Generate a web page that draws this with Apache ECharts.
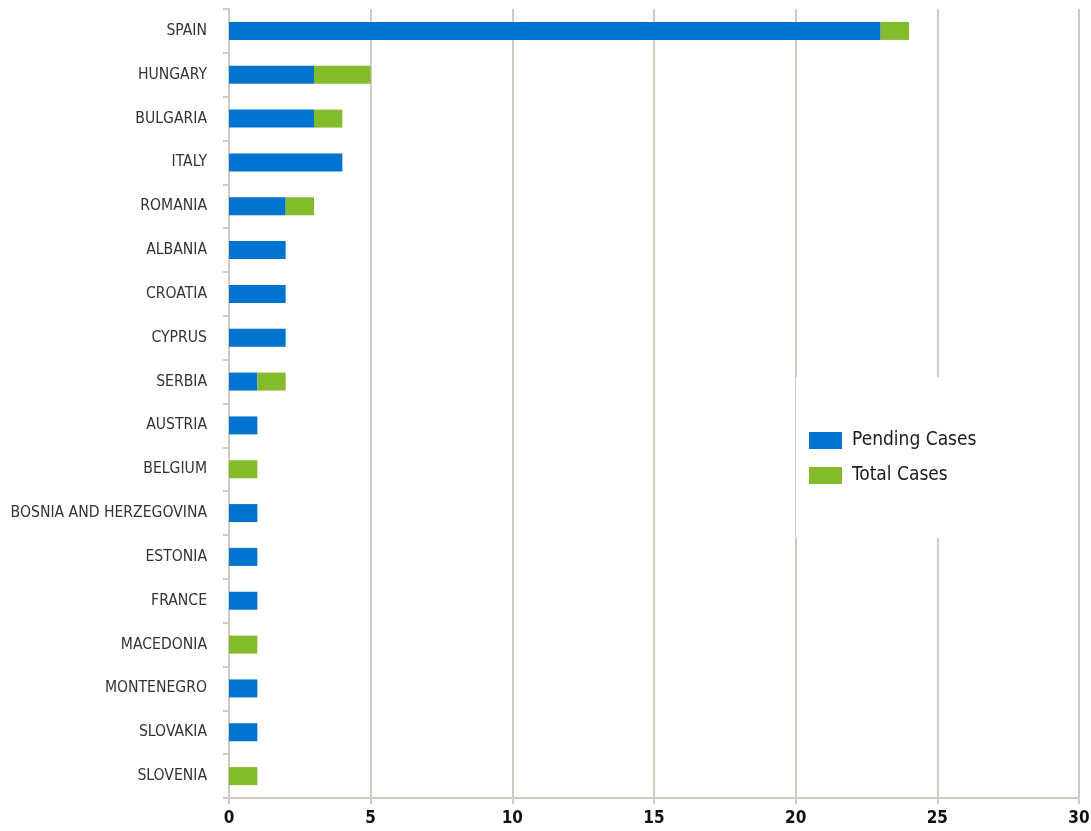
<!DOCTYPE html>
<html>
<head>
<meta charset="utf-8">
<script src="https://cdn.jsdelivr.net/npm/echarts@6/dist/echarts.min.js"></script>
<style>
html, body { margin: 0; padding: 0; background: #fff; }
#main { width: 1091px; height: 831px; }
</style>
</head>
<body>
<div id="main"></div>
<script>
var countries = ['SPAIN', 'HUNGARY', 'BULGARIA', 'ITALY', 'ROMANIA', 'ALBANIA', 'CROATIA', 'CYPRUS', 'SERBIA',
    'AUSTRIA', 'BELGIUM', 'BOSNIA AND HERZEGOVINA', 'ESTONIA', 'FRANCE', 'MACEDONIA', 'MONTENEGRO', 'SLOVAKIA', 'SLOVENIA'];
var pending = [23, 3, 3, 4, 2, 2, 2, 2, 1, 1, 0, 1, 1, 1, 0, 1, 1, 0];
var total = [1, 2, 1, 0, 1, 0, 0, 0, 1, 0, 1, 0, 0, 0, 1, 0, 0, 1];

var lineColor = '#d3c9c2';
var font = 'DejaVu Sans Condensed, Liberation Sans Narrow, sans-serif';
var myChart = echarts.init(document.getElementById('main'));

option = {
    animation: false,
    grid: {
        left: 229,
        right: 12,
        top: 9,
        bottom: 33,
        outerBoundsMode: 'none',
        containLabel: false
    },
    legend: {
        orient: 'vertical',
        left: 804,
        top: 426,
        itemWidth: 33,
        itemHeight: 17,
        itemGap: 16,
        icon: 'rect',
        z: 10,
        textStyle: {
            fontFamily: font,
            fontSize: 19,
            color: '#1a1a1a',
            padding: [0, 0, 0, 5]
        },
        data: ['Pending Cases', 'Total Cases']
    },
    // white box behind the legend, hides the grid lines
    graphic: [{
        type: 'rect',
        z: 5,
        shape: { x: 796, y: 377, width: 276, height: 161 },
        style: { fill: '#fff' }
    }],
    xAxis: {
        type: 'value',
        min: 0,
        max: 30,
        interval: 5,
        axisLine: { show: true, lineStyle: { color: lineColor, width: 2 } },
        axisTick: { show: true, length: 6, lineStyle: { color: lineColor, width: 2 } },
        splitLine: { show: true, lineStyle: { color: lineColor, width: 2 } },
        axisLabel: {
            margin: 12,
            fontFamily: font,
            fontSize: 17,
            fontWeight: 'bold',
            color: '#111'
        }
    },
    yAxis: {
        type: 'category',
        inverse: true,
        data: countries,
        axisLine: { show: true, lineStyle: { color: lineColor, width: 2 } },
        axisTick: { show: true, length: 6, lineStyle: { color: lineColor, width: 2 } },
        axisLabel: {
            margin: 22,
            fontFamily: font,
            fontSize: 15.6,
            color: '#333'
        }
    },
    series: [
        {
            name: 'Pending Cases',
            type: 'bar',
            stack: 'cases',
            barWidth: 18,
            itemStyle: { color: '#0073cf' },
            data: pending
        },
        {
            name: 'Total Cases',
            type: 'bar',
            stack: 'cases',
            barWidth: 18,
            itemStyle: { color: '#84bb2a' },
            data: total
        }
    ]
};

myChart.setOption(option);
</script>
</body>
</html>
